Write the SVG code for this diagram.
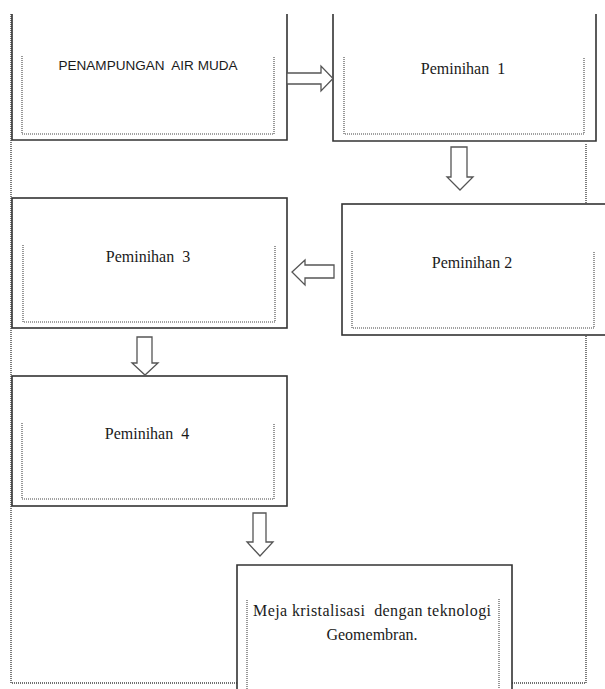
<svg xmlns="http://www.w3.org/2000/svg" width="605" height="689" viewBox="0 0 605 689">
<style>
.box{fill:#fff;stroke:#333;stroke-width:1.6}
.inner{fill:none;stroke:#444;stroke-width:1.1;stroke-dasharray:1 1}
.frame{fill:none;stroke:#444;stroke-width:1.4;stroke-dasharray:1 1}
.arrow{fill:#fff;stroke:#555;stroke-width:1.3;stroke-linejoin:miter}
.serif{font-size:16px;fill:#1a1a1a;text-anchor:middle}
.sans{font-size:12.5px;fill:#1a1a1a;text-anchor:middle}
</style>
<rect width="605" height="689" fill="#fff"/>
<path class="frame" d="M11,14 V683 H586 V143"/>
<g id="penampungan">
<path class="box" d="M12,14 V140 H287 V14"/>
<path class="inner" d="M22,56 V134 H274 V56"/>
<text class="sans" font-family="'Liberation Sans', Arial, sans-serif" x="148" y="70" textLength="179" lengthAdjust="spacingAndGlyphs" xml:space="preserve">PENAMPUNGAN  AIR MUDA</text>
</g>
<g id="peminihan1">
<path class="box" d="M333,14 V141 H596 V14"/>
<path class="inner" d="M344,57 V134 H584 V57"/>
<text class="serif" font-family="'Liberation Serif', 'Times New Roman', serif" x="463" y="74" xml:space="preserve">Peminihan  1</text>
</g>
<g id="peminihan2">
<rect class="box" x="342" y="204" width="280" height="131"/>
<path class="inner" d="M352,251 V328 H594 V251"/>
<text class="serif" font-family="'Liberation Serif', 'Times New Roman', serif" x="472" y="268">Peminihan 2</text>
</g>
<g id="peminihan3">
<rect class="box" x="12" y="198" width="275" height="130"/>
<path class="inner" d="M23,245 V322 H275 V245"/>
<text class="serif" font-family="'Liberation Serif', 'Times New Roman', serif" x="148" y="262" xml:space="preserve">Peminihan  3</text>
</g>
<g id="peminihan4">
<rect class="box" x="12" y="376" width="275" height="130"/>
<path class="inner" d="M22,423 V499 H274 V423"/>
<text class="serif" font-family="'Liberation Serif', 'Times New Roman', serif" x="147" y="439" xml:space="preserve">Peminihan  4</text>
</g>
<g id="meja">
<path class="box" d="M237,695 V565 H512 V695"/>
<path class="inner" d="M247,695 V599 M499,599 V695"/>
<text class="serif" font-family="'Liberation Serif', 'Times New Roman', serif" x="372" y="616" textLength="238" lengthAdjust="spacing" xml:space="preserve">Meja kristalisasi  dengan teknologi</text>
<text class="serif" font-family="'Liberation Serif', 'Times New Roman', serif" x="372" y="640">Geomembran.</text>
</g>
<g id="connectors">
<path class="arrow" d="M287,73 H321 V66 L333,78.5 L321,91 V84 H287 Z"/>
<path class="arrow" d="M451,147 H467 V177 H473 L460,190 L447,177 H451 Z"/>
<path class="arrow" d="M334,265 H305 V260 L292,272 L305,285 V278 H334 Z"/>
<path class="arrow" d="M137,337 H152 V363 H158 L145,375 L132,363 H137 Z"/>
<path class="arrow" d="M253,513 H266 V542 H273 L260,556 L247,542 H253 Z"/>
</g>
</svg>
